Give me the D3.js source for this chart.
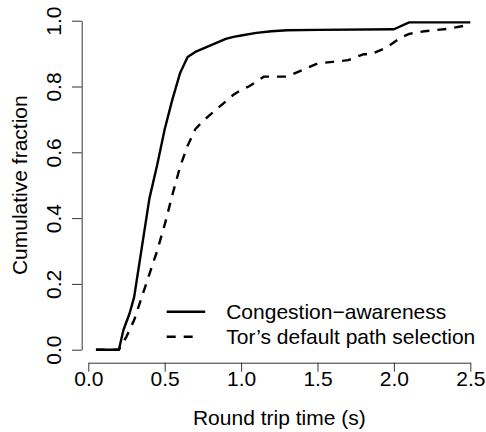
<!DOCTYPE html>
<html>
<head>
<meta charset="utf-8">
<script src="https://cdn.jsdelivr.net/npm/d3@7"></script>
<style>
  body { margin: 0; background: #fff; }
  text { font-family: "Liberation Sans", Arial, Helvetica, sans-serif; fill: #000; }
</style>
</head>
<body>
<div id="cdf"></div>
<script>
// Data
var seriesNames = ["Congestion\u2212awareness", "Tor\u2019s default path selection"]

var rttCongestion = [0.05, 0.20, 0.23, 0.27, 0.30, 0.33, 0.36, 0.40, 0.45, 0.50, 0.55, 0.60, 0.65, 0.70,
  0.75, 0.80, 0.85, 0.90, 0.95, 1.00, 1.10, 1.20, 1.30, 1.50, 2.00, 2.10, 2.50]
var fracCongestion = [0, 0, 0.06, 0.11, 0.16, 0.25, 0.34, 0.46, 0.56, 0.67, 0.76, 0.84, 0.89, 0.905,
  0.915, 0.925, 0.935, 0.945, 0.951, 0.955, 0.963, 0.968, 0.971, 0.972, 0.974, 0.995, 0.995]

var rttDefault = [0.05, 0.20, 0.25, 0.30, 0.35, 0.40, 0.45, 0.50, 0.55, 0.60, 0.65, 0.70, 0.75, 0.80,
  0.85, 0.90, 0.95, 1.00, 1.05, 1.10, 1.15, 1.30, 1.40, 1.50, 1.60, 1.70, 1.80, 1.85, 1.95, 2.05,
  2.10, 2.20, 2.35, 2.50]
var fracDefault = [0, 0, 0.04, 0.09, 0.16, 0.23, 0.30, 0.38, 0.47, 0.555, 0.62, 0.67, 0.695, 0.715,
  0.735, 0.755, 0.775, 0.79, 0.80, 0.815, 0.83, 0.83, 0.85, 0.87, 0.875, 0.88, 0.898, 0.898, 0.918, 0.95,
  0.96, 0.968, 0.975, 0.988]

var xTicks = [0, 0.5, 1.0, 1.5, 2.0, 2.5]
var yTicks = [0, 0.2, 0.4, 0.6, 0.8, 1.0]

const width = 486, height = 432

var svg = d3.select("#cdf")
  .append("svg")
  .attr("width", width)
  .attr("height", height)

// Scales
var x = d3.scaleLinear()
  .domain([0, 2.5])
  .range([88.3, 470.3])

var y = d3.scaleLinear()
  .domain([0, 1])
  .range([349.7, 20.7])

// X axis
var xAxis = svg.append("g")
  .attr("transform", "translate(0,362.7)")
  .call(d3.axisBottom(x).tickValues(xTicks).tickFormat(d3.format(".1f")).tickSize(9).tickSizeOuter(0))

xAxis.selectAll("text")
  .attr("y", 23)
  .attr("dy", 0)
  .style("font-size", "21px")

// Y axis
var yAxis = svg.append("g")
  .attr("transform", "translate(81.7,0)")
  .call(d3.axisLeft(y).tickValues(yTicks).tickFormat(d3.format(".1f")).tickSize(9.7).tickSizeOuter(0))

yAxis.selectAll("text")
  .attr("x", 0)
  .attr("dy", 0)
  .attr("transform", "translate(-21,0) rotate(-90)")
  .style("text-anchor", "middle")
  .style("font-size", "21px")

svg.selectAll(".domain, .tick line")
  .attr("stroke", "#333")

// Axis titles
svg.append("text")
  .attr("x", (x.range()[0] + x.range()[1]) / 2)
  .attr("y", 425)
  .attr("text-anchor", "middle")
  .style("font-size", "21px")
  .text("Round trip time (s)")

svg.append("text")
  .attr("transform", "translate(26.7," + (y.range()[0] + y.range()[1]) / 2 + ") rotate(-90)")
  .attr("text-anchor", "middle")
  .style("font-size", "21px")
  .text("Cumulative fraction")

// Lines
var line = d3.line()
  .x(function(d) { return x(d[0]) })
  .y(function(d) { return y(d[1]) })

var series = [
  {name: seriesNames[0], data: d3.zip(rttCongestion, fracCongestion), dash: null},
  {name: seriesNames[1], data: d3.zip(rttDefault, fracDefault), dash: "9,8"}
]

svg.selectAll(".cdfline")
  .data(series)
  .enter()
  .append("path")
  .attr("class", "cdfline")
  .attr("d", function(d) { return line(d.data) })
  .attr("fill", "none")
  .attr("stroke", "#000")
  .attr("stroke-width", 2.4)
  .attr("stroke-linejoin", "round")
  .attr("stroke-dasharray", function(d) { return d.dash })

// Legend
var legend = svg.selectAll(".legend")
  .data(series)
  .enter()
  .append("g")
  .attr("class", "legend")
  .attr("transform", function(d, i) { return "translate(166.7," + (311.7 + i * 25) + ")" })

legend.append("line")
  .attr("x1", 0)
  .attr("x2", 38.5)
  .attr("stroke", "#000")
  .attr("stroke-width", 2.4)
  .attr("stroke-dasharray", function(d) { return d.dash ? "9,8,9,20" : null })

legend.append("text")
  .attr("x", 59.5)
  .attr("dy", "0.35em")
  .style("font-size", "21px")
  .text(function(d) { return d.name })
</script>
</body>
</html>
